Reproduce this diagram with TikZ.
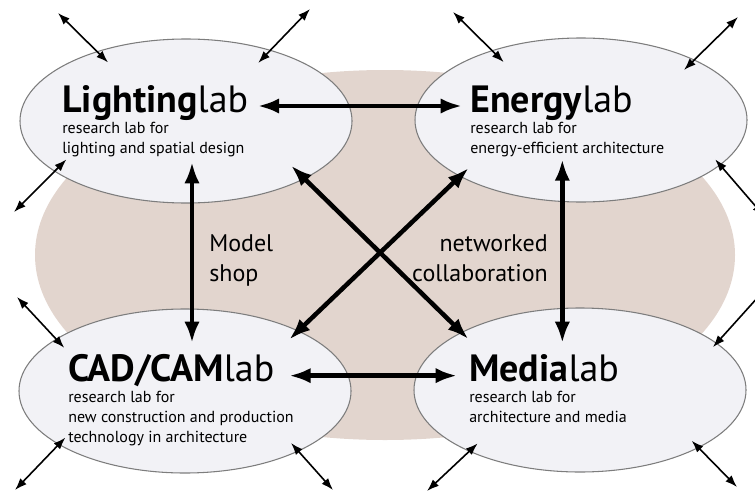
\documentclass[tikz,border=0pt]{standalone}
\usepackage{fontspec}
\setmainfont{PT Sans}
\usetikzlibrary{shapes.geometric,arrows.meta}

\definecolor{labfill}{RGB}{242,242,246}
\definecolor{labline}{RGB}{125,125,125}
\definecolor{shopbg}{RGB}{226,213,206}

\tikzset{
  labellipse/.style={ellipse, draw=labline, line width=0.8pt, fill=labfill,
    minimum width=249pt, minimum height=123pt, inner sep=0pt},
  labtitle/.style={anchor=base west, inner sep=0pt, font=\fontsize{28.5}{34}\selectfont},
  labtext/.style={anchor=base west, inner sep=0pt, align=left, font=\fontsize{12}{15}\selectfont},
  midtext/.style={inner sep=0pt, font=\fontsize{18}{22}\selectfont},
  linkarrow/.style={line width=3.4pt, {Latex[length=16pt,width=11.5pt]}-{Latex[length=16pt,width=11.5pt]}},
  outarrow/.style={line width=1.2pt, {Latex[length=9pt,width=6.5pt]}-{Latex[length=9pt,width=6.5pt]}},
}

\begin{document}
\begin{tikzpicture}[x=0.75pt,y=-0.75pt]
    \clip (0,0) rectangle (755,492);
    % shared area behind the four labs
    \fill[shopbg] (385,255) ellipse [x radius=350, y radius=185];

    \node[labellipse] (light) at (186,121) {};
    \node[labellipse] (energy) at (581,120) {};
    \node[labellipse] (cad) at (185,391) {};
    \node[labellipse] (media) at (580,390) {};

    % base of a text block = baseline of its last line
    \node[labtitle] (lightT) at (62,112) {\textbf{Lighting}lab};
    \node[labtext] (lightS) at (62,153) {research lab for\\lighting and spatial design};
    \node[labtitle] (energyT) at (470,112) {\textbf{Energy}lab};
    \node[labtext] (energyS) at (470,153) {research lab for\\energy-efficient architecture};
    \node[labtitle] (cadT) at (68,381) {\textbf{CAD/CAM}lab};
    \node[labtext] (cadS) at (68,442) {research lab for\\new construction and production\\technology in architecture};
    \node[labtitle] (mediaT) at (469,381) {\textbf{Media}lab};
    \node[labtext] (mediaS) at (469,422) {research lab for\\architecture and media};

    \node[midtext, anchor=base west, align=left] (shop) at (209,281) {Model\\shop};
    \node[midtext, anchor=base east, align=right] (net) at (548,281) {networked\\collaboration};

    % links between the labs
    \draw[linkarrow, shorten <=7pt, shorten >=6pt] ([yshift=4.5pt]lightT.base east) -- ([yshift=4.5pt]energyT.base west);
    \draw[linkarrow, shorten <=11pt, shorten >=9pt] ([yshift=4pt]cadT.base east) -- ([yshift=4pt]mediaT.base west);
    \draw[linkarrow, shorten <=4pt, shorten >=8pt] ([xshift=4.5pt]light |- lightS.south) -- ([xshift=4.5pt]light |- cadT.north);
    \draw[linkarrow, shorten <=2pt, shorten >=8pt] ([xshift=-14pt]energy |- energyS.south) -- ([xshift=-14pt]energy |- mediaT.north);
    \draw[linkarrow, shorten <=-14.3pt, shorten >=-7.5pt] (light.-26) -- (media.154);
    \draw[linkarrow, shorten <=-9.3pt, shorten >=-9.6pt] (energy.205) -- (cad.28);

    % links to the outside
    \coordinate (lightNW) at (58,13);
    \coordinate (lightNE) at (310,9);
    \coordinate (lightSW) at (14,212);
    \coordinate (energyNW) at (453,12);
    \coordinate (energyNE) at (738,17);
    \coordinate (energyE) at (764,216);
    \coordinate (cadNW) at (17,297);
    \coordinate (cadSW) at (15,490);
    \coordinate (cadSE) at (333,490);
    \coordinate (mediaNE) at (768,286);
    \coordinate (mediaSW) at (427,491);
    \coordinate (mediaSE) at (737,487);

    \draw[outarrow, shorten >=-11.9pt] (lightNW) -- (light.142);
    \draw[outarrow, shorten >=-13.5pt] (lightNE) -- (light.40);
    \draw[outarrow, shorten >=-12.8pt] (lightSW) -- (light.201);
    \draw[outarrow, shorten >=-12.6pt] (energyNW) -- (energy.142);
    \draw[outarrow, shorten >=-11.1pt] (energyNE) -- (energy.28);
    \draw[outarrow, shorten >=-5.8pt] (energyE) -- (energy.342);
    \draw[outarrow, shorten >=-9.2pt] (cadNW) -- (cad.158);
    \draw[outarrow, shorten >=-7.4pt] (cadSW) -- (cad.203);
    \draw[outarrow, shorten >=-8.4pt] (cadSE) -- (cad.332);
    \draw[outarrow, shorten >=-4.3pt] (mediaNE) -- (media.19);
    \draw[outarrow, shorten >=-8.9pt] (mediaSW) -- (media.209);
    \draw[outarrow, shorten >=-7.5pt] (mediaSE) -- (media.334);
\end{tikzpicture}
\end{document}
